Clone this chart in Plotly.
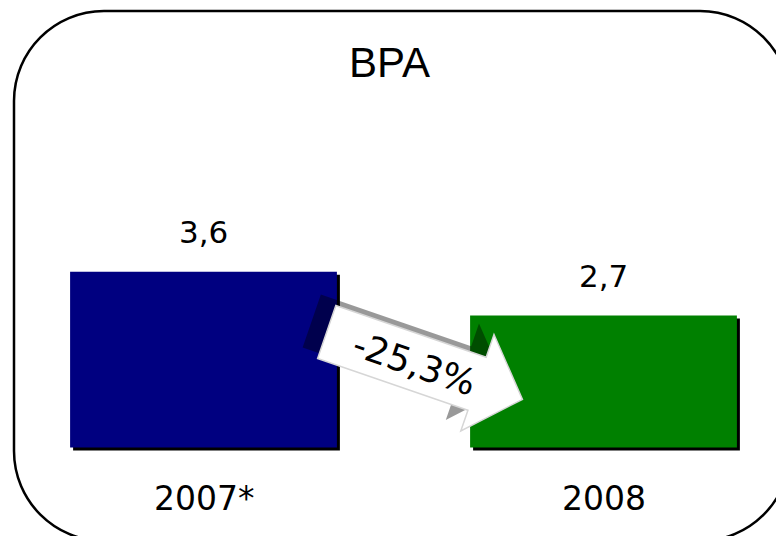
import math
import plotly.graph_objects as go

# ---- data ----
title_text = "BPA"
categories = ["2007*", "2008"]
values = [3.6, 2.7]
value_labels = ["3,6", "2,7"]
change_label = "-25,3%"
bar_colors = ["#000080", "#008000"]

# ---- page geometry (pixels) ----
W, H = 776, 536
FONT = "DejaVu Sans"


def px(x):
    return x / W


def py(y):
    return 1 - y / H


BAR_W = 0.667
X_UNIT = 400.0      # pixels per category step
Y_UNIT = 48.85      # pixels per value unit
SHADOW_DX = 3 / X_UNIT
SHADOW_DY = 3 / Y_UNIT

idx = list(range(len(categories)))

fig = go.Figure()
# drop shadow of bars
fig.add_trace(go.Bar(
    x=idx, y=values, base=[-SHADOW_DY] * len(values),
    width=BAR_W, offset=-BAR_W / 2 + SHADOW_DX,
    marker=dict(color="black", line_width=0), hoverinfo="skip",
))
# bars
fig.add_trace(go.Bar(
    x=idx, y=values, width=BAR_W, offset=-BAR_W / 2,
    marker=dict(color=bar_colors, line_width=0), hoverinfo="skip",
))


# ---- rounded frame ----
def rounded_rect(l, t, r, b, rad):
    k = 0.5523 * rad
    pts = []
    pts.append(f"M{px(l + rad)},{py(t)}")
    pts.append(f"L{px(r - rad)},{py(t)}")
    pts.append(f"C{px(r - rad + k)},{py(t)} {px(r)},{py(t + rad - k)} {px(r)},{py(t + rad)}")
    pts.append(f"L{px(r)},{py(b - rad)}")
    pts.append(f"C{px(r)},{py(b - rad + k)} {px(r - rad + k)},{py(b)} {px(r - rad)},{py(b)}")
    pts.append(f"L{px(l + rad)},{py(b)}")
    pts.append(f"C{px(l + rad - k)},{py(b)} {px(l)},{py(b - rad + k)} {px(l)},{py(b - rad)}")
    pts.append(f"L{px(l)},{py(t + rad)}")
    pts.append(f"C{px(l)},{py(t + rad - k)} {px(l + rad - k)},{py(t)} {px(l + rad)},{py(t)}")
    pts.append("Z")
    return " ".join(pts)


fig.add_shape(type="path", xref="paper", yref="paper",
              path=rounded_rect(14, 11, 790, 541, 90),
              line=dict(color="black", width=2.5), layer="below")


# ---- arrow ----
def arrow_path(dx=0.0, dy=0.0):
    ang = math.radians(19)
    ux, uy = math.cos(ang), math.sin(ang)
    nx, ny = -uy, ux
    c_n = 207.5
    # (along, across) in rotated frame
    local = [(417, -28), (576, -28), (576, -52), (624, 0),
             (576, 50), (576, 28), (417, 28)]
    cmds = []
    for i, (a, c) in enumerate(local):
        x = a * ux + (c_n + c) * nx + dx
        y = a * uy + (c_n + c) * ny + dy
        cmds.append(("M" if i == 0 else "L") + f"{px(x)},{py(y)}")
    return " ".join(cmds) + " Z"


fig.add_shape(type="path", xref="paper", yref="paper", path=arrow_path(-15, -11),
              fillcolor="rgba(0,0,0,0.4)", line=dict(width=0), layer="above")
fig.add_shape(type="path", xref="paper", yref="paper", path=arrow_path(),
              fillcolor="white", line=dict(color="#d6d6d6", width=1.5), layer="above")

annotations = []
annotations.append(dict(text=title_text, x=px(389.5), y=py(62), xref="paper", yref="paper",
                        showarrow=False, xanchor="center", yanchor="middle",
                        font=dict(family="Liberation Sans", size=42, color="black")))
for i, cat, v, lab in zip(idx, categories, values, value_labels):
    annotations.append(dict(text=lab, x=i, y=v, xref="x", yref="y", showarrow=False,
                            xanchor="center", yanchor="bottom", yshift=20,
                            font=dict(family=FONT, size=31, color="black")))
    annotations.append(dict(text=cat, x=i, y=0, xref="x", yref="y", showarrow=False,
                            xanchor="center", yanchor="top", yshift=-29,
                            font=dict(family=FONT, size=33, color="black")))
annotations.append(dict(text=change_label, x=px(414), y=py(363), xref="paper", yref="paper",
                        showarrow=False, xanchor="center", yanchor="middle", textangle=19,
                        font=dict(family=FONT, size=36, color="black")))

x0 = -203.5 / X_UNIT
x1 = (W - 203.5) / X_UNIT
y0 = -(H - 447.5) / Y_UNIT
y1 = 447.5 / Y_UNIT

fig.update_layout(
    width=W, height=H,
    margin=dict(l=0, r=0, t=0, b=0),
    paper_bgcolor="white", plot_bgcolor="white",
    barmode="overlay", showlegend=False,
    xaxis=dict(visible=False, range=[x0, x1], fixedrange=True),
    yaxis=dict(visible=False, range=[y0, y1], fixedrange=True),
    annotations=annotations,
)

fig.write_html("out.html", config={"displayModeBar": False},
               post_script="document.body.style.margin='0px';document.body.style.overflow='hidden';")
